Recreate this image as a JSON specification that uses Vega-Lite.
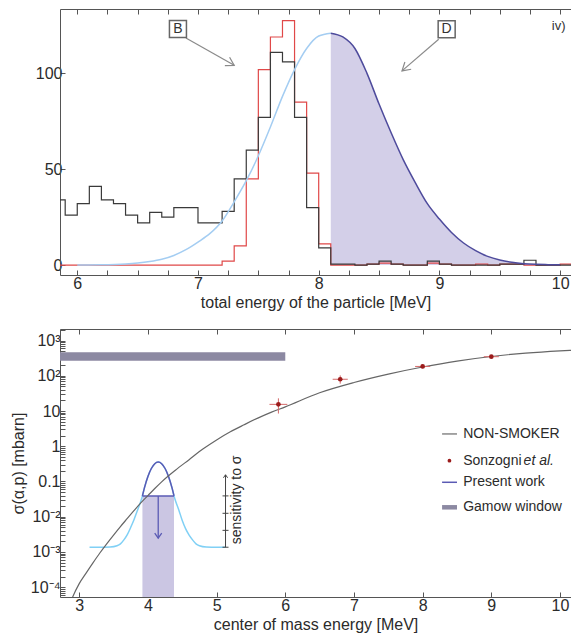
{
  "$schema": "https://vega.github.io/schema/vega-lite/v6.json",
  "padding": {"left": 10, "top": 8, "right": 0, "bottom": 4},
  "background": "white",
  "config": {
    "font": "Liberation Sans",
    "view": {"stroke": null},
    "axis": {"domainColor": "#555555", "tickColor": "#555555", "labelColor": "#2b2b2b", "titleColor": "#2b2b2b", "labelFontSize": 16, "titleFontSize": 16, "titleFontWeight": "normal", "grid": false, "labelFont": "Liberation Sans", "titleFont": "Liberation Sans", "labelFlush": false, "labelOverlap": false},
    "text": {"font": "Liberation Sans"}
  },
  "datasets": {
    "hist": [
      {"e": 5.8, "count": 34, "series": "black"}, {"e": 5.9, "count": 26, "series": "black"}, {"e": 6.0, "count": 32, "series": "black"}, {"e": 6.1, "count": 41, "series": "black"}, {"e": 6.2, "count": 34, "series": "black"}, {"e": 6.3, "count": 32, "series": "black"}, {"e": 6.4, "count": 26, "series": "black"}, {"e": 6.5, "count": 22, "series": "black"}, {"e": 6.6, "count": 27.5, "series": "black"}, {"e": 6.7, "count": 25, "series": "black"}, {"e": 6.8, "count": 30, "series": "black"}, {"e": 6.9, "count": 30, "series": "black"}, {"e": 7.0, "count": 22, "series": "black"}, {"e": 7.1, "count": 22, "series": "black"}, {"e": 7.2, "count": 28, "series": "black"}, {"e": 7.3, "count": 45, "series": "black"}, {"e": 7.4, "count": 60, "series": "black"}, {"e": 7.5, "count": 77, "series": "black"}, {"e": 7.6, "count": 111, "series": "black"}, {"e": 7.7, "count": 106, "series": "black"}, {"e": 7.8, "count": 77, "series": "black"}, {"e": 7.9, "count": 30, "series": "black"}, {"e": 8.0, "count": 9, "series": "black"}, {"e": 8.1, "count": 0.5, "series": "black"}, {"e": 8.2, "count": 0.5, "series": "black"}, {"e": 8.3, "count": 0, "series": "black"}, {"e": 8.4, "count": 0.5, "series": "black"}, {"e": 8.5, "count": 2, "series": "black"}, {"e": 8.6, "count": 0.5, "series": "black"}, {"e": 8.7, "count": 0, "series": "black"}, {"e": 8.8, "count": 0, "series": "black"}, {"e": 8.9, "count": 2, "series": "black"}, {"e": 9.0, "count": 0.5, "series": "black"}, {"e": 9.1, "count": 0, "series": "black"}, {"e": 9.2, "count": 0, "series": "black"}, {"e": 9.3, "count": 0, "series": "black"}, {"e": 9.4, "count": 0, "series": "black"}, {"e": 9.5, "count": 0.5, "series": "black"}, {"e": 9.6, "count": 0.5, "series": "black"}, {"e": 9.7, "count": 2.5, "series": "black"}, {"e": 9.8, "count": 0, "series": "black"}, {"e": 9.9, "count": 0, "series": "black"}, {"e": 10.0, "count": 0, "series": "black"}, {"e": 10.1, "count": 0, "series": "black"},
      {"e": 5.8, "count": 0, "series": "red"}, {"e": 7.2, "count": 2, "series": "red"}, {"e": 7.3, "count": 10, "series": "red"}, {"e": 7.4, "count": 45, "series": "red"}, {"e": 7.5, "count": 102, "series": "red"}, {"e": 7.6, "count": 119, "series": "red"}, {"e": 7.7, "count": 127.5, "series": "red"}, {"e": 7.8, "count": 85, "series": "red"}, {"e": 7.9, "count": 48, "series": "red"}, {"e": 8.0, "count": 11, "series": "red"}, {"e": 8.1, "count": 0, "series": "red"}, {"e": 8.4, "count": 0.5, "series": "red"}, {"e": 8.5, "count": 1, "series": "red"}, {"e": 8.6, "count": 0.5, "series": "red"}, {"e": 8.7, "count": 0, "series": "red"}, {"e": 8.9, "count": 1, "series": "red"}, {"e": 9.0, "count": 0.5, "series": "red"}, {"e": 9.1, "count": 0, "series": "red"}, {"e": 9.3, "count": 0.5, "series": "red"}, {"e": 9.4, "count": 0, "series": "red"}, {"e": 9.5, "count": 0.5, "series": "red"}, {"e": 9.6, "count": 0.5, "series": "red"}, {"e": 9.7, "count": 0, "series": "red"}, {"e": 10.0, "count": 0.5, "series": "red"}, {"e": 10.1, "count": 0.5, "series": "red"}
    ],
    "rise": [
      {"e": 6.0, "count": 0.02}, {"e": 6.2, "count": 0.1}, {"e": 6.4, "count": 0.5}, {"e": 6.5, "count": 1.0}, {"e": 6.6, "count": 1.8}, {"e": 6.7, "count": 3}, {"e": 6.8, "count": 5}, {"e": 6.9, "count": 8}, {"e": 7.0, "count": 12}, {"e": 7.1, "count": 16.5}, {"e": 7.2, "count": 23}, {"e": 7.3, "count": 33}, {"e": 7.4, "count": 44}, {"e": 7.5, "count": 57}, {"e": 7.6, "count": 72}, {"e": 7.7, "count": 88}, {"e": 7.8, "count": 102}, {"e": 7.9, "count": 113}, {"e": 8.0, "count": 119.5}, {"e": 8.1, "count": 121}
    ],
    "fall": [
      {"e": 8.1, "count": 121}, {"e": 8.2, "count": 119}, {"e": 8.3, "count": 113}, {"e": 8.4, "count": 100}, {"e": 8.5, "count": 84}, {"e": 8.6, "count": 69}, {"e": 8.7, "count": 55}, {"e": 8.8, "count": 43}, {"e": 8.9, "count": 32}, {"e": 9.0, "count": 24}, {"e": 9.1, "count": 17}, {"e": 9.2, "count": 11.5}, {"e": 9.3, "count": 7.5}, {"e": 9.4, "count": 4.5}, {"e": 9.5, "count": 2.6}, {"e": 9.6, "count": 1.4}, {"e": 9.7, "count": 0.7}, {"e": 9.8, "count": 0.35}, {"e": 9.9, "count": 0.2}, {"e": 10.0, "count": 0.1}
    ],
    "nonsmoker": [
      {"e": 2.85, "s": 2.82e-5}, {"e": 2.9, "s": 5.01e-5}, {"e": 3.0, "s": 1.26e-4}, {"e": 3.1, "s": 2.51e-4}, {"e": 3.2, "s": 4.9e-4}, {"e": 3.3, "s": 9.33e-4}, {"e": 3.4, "s": 1.7e-3}, {"e": 3.5, "s": 3.02e-3}, {"e": 3.6, "s": 5.25e-3}, {"e": 3.7, "s": 8.91e-3}, {"e": 3.8, "s": 0.0151}, {"e": 3.9, "s": 0.0251}, {"e": 4.0, "s": 0.0398}, {"e": 4.1, "s": 0.0631}, {"e": 4.2, "s": 0.0977}, {"e": 4.4, "s": 0.209}, {"e": 4.6, "s": 0.417}, {"e": 4.8, "s": 0.832}, {"e": 5.0, "s": 1.51}, {"e": 5.2, "s": 2.57}, {"e": 5.4, "s": 4.07}, {"e": 5.6, "s": 6.31}, {"e": 5.8, "s": 9.33}, {"e": 6.0, "s": 13.2}, {"e": 6.5, "s": 33.1}, {"e": 7.0, "s": 64.6}, {"e": 7.5, "s": 112}, {"e": 8.0, "s": 178}, {"e": 8.5, "s": 263}, {"e": 9.0, "s": 355}, {"e": 9.5, "s": 442}, {"e": 10.0, "s": 513}, {"e": 10.2, "s": 537}
    ],
    "sonzogni": [
      {"e": 5.9, "e_lo": 5.77, "e_hi": 6.03, "s": 15.5, "s_lo": 8.5, "s_hi": 23}, {"e": 6.8, "e_lo": 6.69, "e_hi": 6.91, "s": 80, "s_lo": 60, "s_hi": 103}, {"e": 8.0, "e_lo": 7.89, "e_hi": 8.11, "s": 185, "s_lo": 165, "s_hi": 205}, {"e": 9.0, "e_lo": 8.89, "e_hi": 9.11, "s": 350, "s_lo": 320, "s_hi": 385}
    ],
    "pwcurve": [
      {"e": 3.15, "s": 0.00136, "cap": false}, {"e": 3.3, "s": 0.00136, "cap": false}, {"e": 3.45, "s": 0.00138, "cap": false}, {"e": 3.55, "s": 0.0015, "cap": false}, {"e": 3.6, "s": 0.0017, "cap": false}, {"e": 3.65, "s": 0.0022, "cap": false}, {"e": 3.7, "s": 0.0031, "cap": false}, {"e": 3.75, "s": 0.005, "cap": false}, {"e": 3.8, "s": 0.0085, "cap": false}, {"e": 3.85, "s": 0.0155, "cap": false}, {"e": 3.9, "s": 0.029, "cap": false},
      {"e": 3.92, "s": 0.039, "cap": true}, {"e": 3.95, "s": 0.067, "cap": true}, {"e": 4.0, "s": 0.139, "cap": true}, {"e": 4.05, "s": 0.234, "cap": true}, {"e": 4.1, "s": 0.32, "cap": true}, {"e": 4.15, "s": 0.355, "cap": true}, {"e": 4.2, "s": 0.32, "cap": true}, {"e": 4.25, "s": 0.234, "cap": true}, {"e": 4.3, "s": 0.139, "cap": true}, {"e": 4.35, "s": 0.067, "cap": true}, {"e": 4.38, "s": 0.039, "cap": true},
      {"e": 4.4, "s": 0.029, "cap": false}, {"e": 4.45, "s": 0.0155, "cap": false}, {"e": 4.5, "s": 0.0078, "cap": false}, {"e": 4.55, "s": 0.0045, "cap": false}, {"e": 4.6, "s": 0.003, "cap": false}, {"e": 4.65, "s": 0.0022, "cap": false}, {"e": 4.7, "s": 0.0017, "cap": false}, {"e": 4.75, "s": 0.0015, "cap": false}, {"e": 4.85, "s": 0.00138, "cap": false}, {"e": 5.0, "s": 0.00136, "cap": false}, {"e": 5.13, "s": 0.00136, "cap": false}
    ],
    "present": [
      {"e": 4.15, "e_lo": 3.92, "e_hi": 4.38, "s_limit": 0.039, "s_arrow": 0.00245}
    ],
    "gamow": [
      {"e_lo": 2.0, "e_hi": 6.0, "s_lo": 270, "s_hi": 467}
    ],
    "sens": [
      {"e": 5.13, "s": 0.00136}, {"e": 5.13, "s": 0.0041}, {"e": 5.13, "s": 0.0125}, {"e": 5.13, "s": 0.039}
    ]
  },
  "spacing": 12,
  "vconcat": [
    {
      "width": 511,
      "height": 266,
      "layer": [
        {
          "data": {"name": "fall"},
          "mark": {"type": "area", "color": "#d3cfe8", "interpolate": "monotone", "clip": true},
          "encoding": {
            "x": {"field": "e", "type": "quantitative", "scale": {"domain": [5.857, 10.09], "nice": false, "zero": false},
              "axis": {"orient": "bottom", "values": [6, 6.25, 6.5, 6.75, 7, 7.25, 7.5, 7.75, 8, 8.25, 8.5, 8.75, 9, 9.25, 9.5, 9.75, 10], "labelExpr": "datum.value % 1 === 0 ? format(datum.value, 'd') : ''", "tickSize": -5, "labelPadding": 5, "title": "total energy of the particle [MeV]", "titlePadding": 3}},
            "y": {"field": "count", "type": "quantitative", "scale": {"domain": [-5.2, 133.6], "nice": false, "zero": false},
              "axis": {"values": [0, 50, 100], "tickSize": -5, "labelPadding": 3, "title": null}},
            "y2": {"datum": 0}
          }
        },
        {
          "data": {"name": "hist"},
          "transform": [{"filter": "datum.series === 'red'"}],
          "mark": {"type": "line", "interpolate": "step-after", "color": "#e04848", "strokeWidth": 1.2, "clip": true},
          "encoding": {
            "x": {"field": "e", "type": "quantitative", "axis": {"orient": "top", "values": [6, 6.25, 6.5, 6.75, 7, 7.25, 7.5, 7.75, 8, 8.25, 8.5, 8.75, 9, 9.25, 9.5, 9.75, 10], "labels": false, "tickSize": -5, "title": null}},
            "y": {"field": "count", "type": "quantitative"}
          }
        },
        {
          "data": {"name": "hist"},
          "transform": [{"filter": "datum.series === 'black'"}],
          "mark": {"type": "line", "interpolate": "step-after", "color": "#3a3a3a", "strokeWidth": 1.2, "clip": true},
          "encoding": {
            "x": {"field": "e", "type": "quantitative", "axis": null},
            "y": {"field": "count", "type": "quantitative"}
          }
        },
        {
          "data": {"name": "rise"},
          "mark": {"type": "line", "interpolate": "monotone", "color": "#a4cdf2", "strokeWidth": 1.5, "clip": true},
          "encoding": {
            "x": {"field": "e", "type": "quantitative", "axis": null},
            "y": {"field": "count", "type": "quantitative"}
          }
        },
        {
          "data": {"name": "fall"},
          "mark": {"type": "line", "interpolate": "monotone", "color": "#4e4b9c", "strokeWidth": 1.5, "clip": true},
          "encoding": {
            "x": {"field": "e", "type": "quantitative", "axis": null},
            "y": {"field": "count", "type": "quantitative"}
          }
        },
        {
          "data": {"values": [{}]},
          "mark": {"type": "rule", "color": "#8a8a8a", "strokeWidth": 1.2},
          "encoding": {
            "x": {"datum": 6.9, "type": "quantitative", "axis": null}, "y": {"datum": 118.5, "type": "quantitative"},
            "x2": {"datum": 7.3}, "y2": {"datum": 104.2}
          }
        },
        {
          "data": {"values": [{}]},
          "mark": {"type": "point", "shape": "M-1,-0.6L0,0L-1,0.6", "size": 256, "angle": 29.5, "filled": false, "stroke": "#8a8a8a", "strokeWidth": 1.2, "opacity": 1},
          "encoding": {
            "x": {"datum": 7.3, "type": "quantitative", "axis": null}, "y": {"datum": 104.2, "type": "quantitative"}
          }
        },
        {
          "data": {"values": [{}]},
          "mark": {"type": "rule", "color": "#8a8a8a", "strokeWidth": 1.2},
          "encoding": {
            "x": {"datum": 8.994, "type": "quantitative", "axis": null}, "y": {"datum": 117.8, "type": "quantitative"},
            "x2": {"datum": 8.69}, "y2": {"datum": 101.3}
          }
        },
        {
          "data": {"values": [{}]},
          "mark": {"type": "point", "shape": "M-1,-0.6L0,0L-1,0.6", "size": 256, "angle": 139, "filled": false, "stroke": "#8a8a8a", "strokeWidth": 1.2, "opacity": 1},
          "encoding": {
            "x": {"datum": 8.69, "type": "quantitative", "axis": null}, "y": {"datum": 101.3, "type": "quantitative"}
          }
        },
        {
          "data": {"values": [{}]},
          "mark": {"type": "point", "shape": "square", "size": 289, "filled": true, "fill": "white", "stroke": "#666666", "strokeWidth": 1.5, "opacity": 1},
          "encoding": {
            "x": {"datum": 6.834, "type": "quantitative", "axis": null}, "y": {"datum": 123.2, "type": "quantitative"}
          }
        },
        {
          "data": {"values": [{}]},
          "mark": {"type": "point", "shape": "square", "size": 289, "filled": true, "fill": "white", "stroke": "#666666", "strokeWidth": 1.5, "opacity": 1},
          "encoding": {
            "x": {"datum": 9.06, "type": "quantitative", "axis": null}, "y": {"datum": 123, "type": "quantitative"}
          }
        },
        {
          "data": {"values": [{}]},
          "mark": {"type": "text", "text": "B", "fontSize": 14, "color": "#333333", "align": "center", "baseline": "middle"},
          "encoding": {
            "x": {"datum": 6.834, "type": "quantitative", "axis": null}, "y": {"datum": 123.2, "type": "quantitative"}
          }
        },
        {
          "data": {"values": [{}]},
          "mark": {"type": "text", "text": "D", "fontSize": 14, "color": "#333333", "align": "center", "baseline": "middle"},
          "encoding": {
            "x": {"datum": 9.06, "type": "quantitative", "axis": null}, "y": {"datum": 123, "type": "quantitative"}
          }
        },
        {
          "data": {"values": [{}]},
          "mark": {"type": "text", "text": "iv)", "fontSize": 13, "color": "#333333", "align": "center", "baseline": "middle"},
          "encoding": {
            "x": {"datum": 9.988, "type": "quantitative", "axis": null}, "y": {"datum": 124.7, "type": "quantitative"}
          }
        }
      ]
    },
    {
      "width": 511,
      "height": 268,
      "layer": [
        {
          "data": {"name": "gamow"},
          "mark": {"type": "rect", "clip": true, "color": "#8c89a2"},
          "encoding": {
            "x": {"field": "e_lo", "type": "quantitative", "scale": {"domain": [2.72, 10.16], "nice": false, "zero": false},
              "axis": {"orient": "bottom", "values": [3, 4, 5, 6, 7, 8, 9, 10], "tickSize": -5, "labelPadding": 5, "title": "center of mass energy [MeV]", "titlePadding": 3}},
            "x2": {"field": "e_hi"},
            "y": {"field": "s_lo", "type": "quantitative", "scale": {"type": "log", "domain": [5.25e-5, 2140], "nice": false},
              "axis": {"values": [0.00006, 0.00007, 0.00008, 0.00009, 0.0001, 0.0002, 0.0003, 0.0004, 0.0005, 0.0006, 0.0007, 0.0008, 0.0009, 0.001, 0.002, 0.003, 0.004, 0.005, 0.006, 0.007, 0.008, 0.009, 0.01, 0.02, 0.03, 0.04, 0.05, 0.06, 0.07, 0.08, 0.09, 0.1, 0.2, 0.3, 0.4, 0.5, 0.6, 0.7, 0.8, 0.9, 1, 2, 3, 4, 5, 6, 7, 8, 9, 10, 20, 30, 40, 50, 60, 70, 80, 90, 100, 200, 300, 400, 500, 600, 700, 800, 900, 1000, 2000],
                "labelExpr": "datum.value === 1000 ? '10³' : datum.value === 100 ? '10²' : datum.value === 10 ? '10' : datum.value === 1 ? '1' : datum.value === 0.1 ? '0.1' : datum.value === 0.01 ? '10⁻²' : datum.value === 0.001 ? '10⁻³' : datum.value === 0.0001 ? '10⁻⁴' : ''",
                "tickSize": -5, "labelPadding": 5, "title": "σ(α,p) [mbarn]", "titlePadding": 4,
                "encode": {"ticks": {"x2": {"value": {"expr": "indexof([0.0001,0.001,0.01,0.1,1,10,100,1000], datum.value) >= 0 ? 5 : 2.5"}}}}}},
            "y2": {"field": "s_hi"}
          }
        },
        {
          "data": {"name": "present"},
          "mark": {"type": "rect", "color": "#cbc6e3", "clip": true},
          "encoding": {
            "x": {"field": "e_lo", "type": "quantitative", "axis": null},
            "x2": {"field": "e_hi"},
            "y": {"field": "s_limit", "type": "quantitative"},
            "y2": {"datum": 0.00001}
          }
        },
        {
          "data": {"name": "pwcurve"},
          "mark": {"type": "line", "interpolate": "monotone", "color": "#80d0f5", "strokeWidth": 1.5, "clip": true},
          "encoding": {
            "x": {"field": "e", "type": "quantitative", "axis": {"orient": "top", "values": [3, 4, 5, 6, 7, 8, 9, 10], "labels": false, "tickSize": -5, "title": null}},
            "y": {"field": "s", "type": "quantitative"}
          }
        },
        {
          "data": {"name": "pwcurve"},
          "transform": [{"filter": "datum.cap"}],
          "mark": {"type": "line", "interpolate": "monotone", "strokeWidth": 1.5, "color": "#5a5ab4", "clip": true},
          "encoding": {
            "x": {"field": "e", "type": "quantitative", "axis": null},
            "y": {"field": "s", "type": "quantitative"}
          }
        },
        {
          "data": {"name": "present"},
          "mark": {"type": "rule", "color": "#5a5ab4", "strokeWidth": 1.5},
          "encoding": {
            "x": {"field": "e_lo", "type": "quantitative", "axis": null},
            "x2": {"field": "e_hi"},
            "y": {"field": "s_limit", "type": "quantitative"}
          }
        },
        {
          "data": {"name": "present"},
          "mark": {"type": "rule", "color": "#5a5ab4", "strokeWidth": 1.3},
          "encoding": {
            "x": {"field": "e", "type": "quantitative", "axis": null},
            "y": {"field": "s_limit", "type": "quantitative"},
            "y2": {"field": "s_arrow"}
          }
        },
        {
          "data": {"name": "present"},
          "mark": {"type": "point", "shape": "M-1,-0.7L0,0L-1,0.7", "size": 100, "angle": 90, "filled": false, "stroke": "#5a5ab4", "strokeWidth": 1.3, "opacity": 1},
          "encoding": {
            "x": {"field": "e", "type": "quantitative", "axis": null},
            "y": {"field": "s_arrow", "type": "quantitative"}
          }
        },
        {
          "data": {"name": "nonsmoker"},
          "mark": {"type": "line", "interpolate": "monotone", "strokeWidth": 1.2, "color": "#666666", "clip": true},
          "encoding": {
            "x": {"field": "e", "type": "quantitative", "axis": null},
            "y": {"field": "s", "type": "quantitative"}
          }
        },
        {
          "data": {"name": "sonzogni"},
          "mark": {"type": "rule", "color": "#d46a6a", "strokeWidth": 1},
          "encoding": {
            "x": {"field": "e_lo", "type": "quantitative", "axis": null},
            "x2": {"field": "e_hi"},
            "y": {"field": "s", "type": "quantitative"}
          }
        },
        {
          "data": {"name": "sonzogni"},
          "mark": {"type": "rule", "color": "#d46a6a", "strokeWidth": 1},
          "encoding": {
            "x": {"field": "e", "type": "quantitative", "axis": null},
            "y": {"field": "s_lo", "type": "quantitative"},
            "y2": {"field": "s_hi"}
          }
        },
        {
          "data": {"name": "sonzogni"},
          "mark": {"type": "point", "filled": true, "size": 22, "opacity": 1, "color": "#9b1b1b"},
          "encoding": {
            "x": {"field": "e", "type": "quantitative", "axis": null},
            "y": {"field": "s", "type": "quantitative"}
          }
        },
        {
          "data": {"values": [{}]},
          "mark": {"type": "rule", "color": "#444444", "strokeWidth": 1},
          "encoding": {
            "x": {"datum": 5.13, "type": "quantitative", "axis": null},
            "y": {"datum": 0.00136, "type": "quantitative"},
            "y2": {"datum": 0.155}
          }
        },
        {
          "data": {"name": "sens"},
          "mark": {"type": "point", "shape": "M-1,0H1", "size": 36, "filled": false, "stroke": "#444444", "strokeWidth": 1, "opacity": 1},
          "encoding": {
            "x": {"field": "e", "type": "quantitative", "axis": null},
            "y": {"field": "s", "type": "quantitative"}
          }
        },
        {
          "data": {"values": [{}]},
          "mark": {"type": "point", "shape": "M-1,-0.7L0,0L-1,0.7", "size": 36, "angle": 270, "filled": false, "stroke": "#444444", "strokeWidth": 1, "opacity": 1},
          "encoding": {
            "x": {"datum": 5.13, "type": "quantitative", "axis": null},
            "y": {"datum": 0.155, "type": "quantitative"}
          }
        },
        {
          "data": {"values": [{}]},
          "mark": {"type": "text", "text": "sensitivity to σ", "fontSize": 14, "color": "#2b2b2b", "angle": 270, "align": "center", "baseline": "middle"},
          "encoding": {
            "x": {"datum": 5.3, "type": "quantitative", "axis": null},
            "y": {"datum": 0.03, "type": "quantitative"}
          }
        },
        {
          "data": {"values": [{}]},
          "mark": {"type": "rule", "color": "#888888", "strokeWidth": 1.5},
          "encoding": {
            "x": {"datum": 8.283, "type": "quantitative", "axis": null}, "x2": {"datum": 8.5},
            "y": {"datum": 2.24, "type": "quantitative"}
          }
        },
        {
          "data": {"values": [{}]},
          "mark": {"type": "point", "filled": true, "size": 14, "opacity": 1, "color": "#9b1b1b"},
          "encoding": {
            "x": {"datum": 8.39, "type": "quantitative", "axis": null},
            "y": {"datum": 0.39, "type": "quantitative"}
          }
        },
        {
          "data": {"values": [{}]},
          "mark": {"type": "rule", "color": "#5a5ab4", "strokeWidth": 1.5},
          "encoding": {
            "x": {"datum": 8.283, "type": "quantitative", "axis": null}, "x2": {"datum": 8.5},
            "y": {"datum": 0.095, "type": "quantitative"}
          }
        },
        {
          "data": {"values": [{}]},
          "mark": {"type": "rule", "color": "#8c89a2", "strokeWidth": 4.5},
          "encoding": {
            "x": {"datum": 8.283, "type": "quantitative", "axis": null}, "x2": {"datum": 8.5},
            "y": {"datum": 0.0185, "type": "quantitative"}
          }
        },
        {
          "data": {"values": [{}]},
          "mark": {"type": "text", "text": "NON-SMOKER", "fontSize": 14, "color": "#2b2b2b", "align": "left", "baseline": "middle"},
          "encoding": {
            "x": {"datum": 8.59, "type": "quantitative", "axis": null},
            "y": {"datum": 2.24, "type": "quantitative"}
          }
        },
        {
          "data": {"values": [{}]},
          "mark": {"type": "text", "text": "Sonzogni", "fontSize": 14, "color": "#2b2b2b", "align": "left", "baseline": "middle"},
          "encoding": {
            "x": {"datum": 8.59, "type": "quantitative", "axis": null},
            "y": {"datum": 0.39, "type": "quantitative"}
          }
        },
        {
          "data": {"values": [{}]},
          "mark": {"type": "text", "text": "et al.", "fontSize": 14, "fontStyle": "italic", "color": "#2b2b2b", "align": "left", "baseline": "middle"},
          "encoding": {
            "x": {"datum": 9.47, "type": "quantitative", "axis": null},
            "y": {"datum": 0.39, "type": "quantitative"}
          }
        },
        {
          "data": {"values": [{}]},
          "mark": {"type": "text", "text": "Present work", "fontSize": 14, "color": "#2b2b2b", "align": "left", "baseline": "middle"},
          "encoding": {
            "x": {"datum": 8.59, "type": "quantitative", "axis": null},
            "y": {"datum": 0.095, "type": "quantitative"}
          }
        },
        {
          "data": {"values": [{}]},
          "mark": {"type": "text", "text": "Gamow window", "fontSize": 14, "color": "#2b2b2b", "align": "left", "baseline": "middle"},
          "encoding": {
            "x": {"datum": 8.59, "type": "quantitative", "axis": null},
            "y": {"datum": 0.0185, "type": "quantitative"}
          }
        }
      ]
    }
  ]
}
